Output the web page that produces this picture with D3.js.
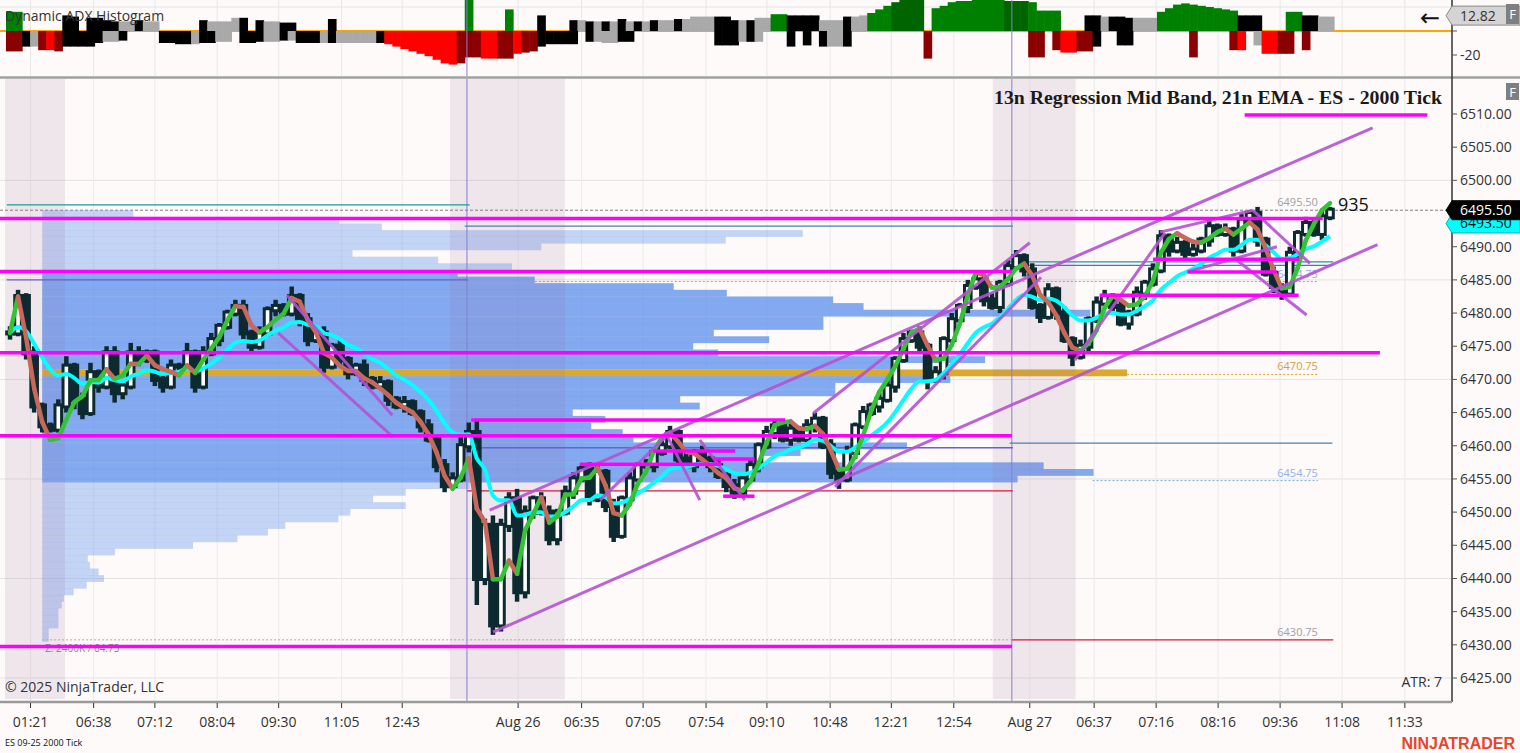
<!DOCTYPE html>
<html><head><meta charset="utf-8">
<script src="https://cdn.jsdelivr.net/npm/d3@7"></script>
<style>
body{margin:0;background:#fdfaf9;overflow:hidden}
svg{display:block;font-family:"Open Sans","Noto Sans",sans-serif}
</style></head>
<body><svg id="c" width="1520" height="753"></svg>
<script>
// ---------------- DATA ----------------
const closes=[6477,6482.5,6474,6466,6463,6462.5,6466,6472,6467,6465,
6471,6469,6474,6468,6469,6474,6473,6474,6470,6469,
6472,6472,6474,6469,6474,6476,6478,6480,6481,6477,
6475,6477,6480.5,6481,6480,6482.5,6479,6476,6477,6472,
6475,6473,6471,6472,6470,6469,6469.5,6467,6466,6466.5,
6465,6463,6461,6457,6454,6455,6460,6462,6440,6448,
6433,6448,6452,6438,6450,6452,6450,6446,6450,6453,
6455,6456.5,6452,6456,6451,6446.5,6452,6455,6457,6457,
6459,6460,6462,6458,6457,6459,6458,6457,6455.5,6454,
6453,6455,6457,6460,6462,6463,6461,6462.5,6461,6463,
6464,6460,6456,6455,6459,6463,6465,6466,6467,6469,
6473,6476,6477,6475,6470,6471,6476,6479,6481,6484,
6485,6482,6481,6484.5,6487,6488.5,6486.5,6481,6479.5,6483.5,
6480,6476,6473.5,6475,6479,6481.5,6482.5,6481,6478.5,6480,
6483,6484.5,6486.5,6491.5,6489.5,6490.5,6489,6489.5,6491,6493,
6492,6492.5,6489.5,6494,6495,6491,6486,6484,6483,6489,
6492,6493.5,6492,6494.5,6495.5];
const wickHi=[1,1,0.5,1,0.5,0.5,1,1.5,0.5,1, 1.5,0.5,1,1,0.5,1.5,1,0.5,0.5,1,
1,0.5,1.5,0.5,1,1,0.5,0.5,1,1, 0.5,1,0.5,1,0.5,1.5,0.5,1,0.5,1,
0.5,1,0.5,0.5,1,0.5,1,0.5,0.5,1, 0.5,0.5,1,0.5,1,1,1.5,1.5,2,1,
1.5,1,1,1.5,1,0.5,1,1,0.5,1, 1,0.5,1,1,0.5,1,0.5,1,0.5,1,
0.5,1,1,0.5,1,0.5,1,0.5,1,0.5, 1,0.5,1,0.5,1,1,0.5,1,0.5,1,
1,0.5,1,0.5,1,0.5,1,0.5,1,1, 0.5,1,0.5,1,0.5,1,0.5,1,0.5,1,
1,0.5,1,0.5,1,1,0.5,1,0.5,1, 0.5,1,0.5,1,0.5,1,1,0.5,1,0.5,
1,0.5,1,1,0.5,1,0.5,1,0.5,1, 0.5,1,0.5,1,0.5,1,0.5,1,0.5,1,
0.5,1,0.5,1,0.5];
const wickLo=[1,0.5,1,1,1,0.5,0.5,1,1.5,1, 0.5,1,0.5,1.5,1,0.5,1,0.5,1,1,
0.5,1,0.5,1,0.5,0.5,1,0.5,0.5,1, 1,0.5,0.5,1,0.5,0.5,1,1,0.5,1,
0.5,1,1,0.5,1,0.5,0.5,1,0.5,1, 0.5,1,0.5,1,1,0.5,0.5,1,4,1,
1.5,1,1,1.5,1,1,0.5,1,1,0.5, 1,0.5,1,0.5,1,1,0.5,1,0.5,0.5,
1,0.5,0.5,1,0.5,1,0.5,1,0.5,1, 1,0.5,0.5,1,0.5,1,0.5,1,0.5,0.5,
1,0.5,1,1.5,0.5,1,0.5,0.5,1,0.5, 1,0.5,0.5,1,1.5,0.5,1,0.5,0.5,1,
0.5,1,0.5,1,0.5,0.5,1,0.5,1,0.5, 1,0.5,1.5,0.5,1,0.5,0.5,1,0.5,1,
0.5,1,0.5,0.5,1,0.5,1,0.5,0.5,1, 0.5,0.5,1,0.5,0.5,1,0.5,1,1,0.5,
1,0.5,0.5,1,0.5];

// Dynamic ADX histogram (upper / lower series, colour codes)
const adxUp=[16,16,0,0,0,0,0,13,12,0, 11,11,9,8,8,8,9,8,8,0, 0,0,0,0,9,8,8,8,11,11, 0,9,8,8,7,7,0,0,0,0,
10,0,0,0,0,0,0,0,0,0, 0,0,0,0,0,0,0,26,0,0, 0,0,18,0,0,0,13,0,0,0, 9,9,8,8,8,8,10,8,8,8,
9,9,9,10,10,12,12,12,12,12, 9,9,9,11,11,14,14,13,13,13, 13,9,9,9,12,12,13,15,18,21, 24,26,26,26,0,19,21,24,25,25,
26,26,26,26,25,25,25,24,17,17, 17,0,0,0,13,13,12,12,12,11, 11,11,11,16,19,22,23,22,21,20, 19,18,17,13,13,13,0,0,0,16,
16,13,13,12,12];
const adxUpC=("GG.....KK.KKKKSSKSS.....KSSSSK.KSSKK....K................G....G...K...KSKSKSKSKS"+
"KSSKSSSSKKKSKSSGGKKKKSSSKSSGGGgggg.GGGGGGGGGgggGGGG...KKSKKKSSSGGGGGGGGGGKKK...GGKKSS").split("");
const adxDn=[17,17,13,13,16,16,17,13,13,13, 13,10,9,9,8,0,0,0,0,10, 10,11,11,11,10,10,9,9,0,10, 10,9,9,9,8,8,10,10,10,10,
10,10,10,10,10,10,10,11,13,15, 17,19,21,24,27,28,27,22,22,23, 23,23,23,19,18,17,13,11,11,11, 11,0,9,9,10,10,9,9,0,0,
0,0,0,0,0,0,0,0,12,12, 12,9,9,9,0,0,0,13,0,12, 0,13,13,13,13,0,0,0,0,0, 0,0,0,0,23,0,0,0,0,0,
0,0,0,0,0,0,0,22,22,0, 16,18,18,17,17,13,0,0,12,12, 0,0,0,0,0,0,0,22,0,0, 0,0,16,16,0,12,19,19,19,19,
0,16,0,0,0];
const adxDnC=("rrKSrRrKKKKKSSK....KKKKSKKSS.KKKSSKSKKKSKSSSSSKRRRRRRRRRrrrRRrrRrrKKKKK.KSSSKK.."+
"........KKKSKS...K.K.KSSK.........r............rr.rRRrrK..KK.......r....rR.SRRrr.r...").split("");

// Volume profile (Aug 25 session)
const profPrice=d3.range(6495,6430,-1);
const profVol=[8.4,27.4,31.3,70.1,63,46,28.6,36.5,43.3,38.3,45.4,58.2,63.1,72.9,75.7,96.6,72,72,61.9,67,
60,62.3,86.9,79,100,83.7,73.1,73.1,58.8,60.6,48.9,51.9,50.6,53.5,54.5,79.7,69.9,66.2,92.3,96.9,
89.9,39.4,33.5,30.5,33.5,28.4,27.3,22.4,20.8,18,13.9,6.7,4.2,4.4,5.2,5.7,4.1,2.9,2,1.8,
1.5,1.5,1.5,0.6,0.6];
const vaHigh=6486, vaLow=6455, pocPrice=6471;

// time axis
const tickLabels=["01:21","06:38","07:12","08:04","09:30","11:05","12:43","Aug 26","06:35","07:05","07:54","09:10","10:48","12:21","12:54","Aug 27","06:37","07:16","08:16","09:36","11:08","11:33"];
const tickIdx=[2.55,10.39,18.0,25.74,33.38,41.2,48.73,63.13,71.02,78.66,86.48,94.04,101.9,109.5,117.26,126.7,134.7,142.4,150.1,157.8,165.5,173.3];
const priceTicks=d3.range(6425,6511,5);
const gridPrices=[6425,6440,6455,6470,6485,6500];
const sessionBreaks=[56.77,124.47];
const shadeRanges=[[-0.62,6.83],[54.66,68.94],[122.1,132.4]];

// drawing objects (bar index, price)
const magentaLines=[[-2,163.1,6494.25],[-2,124.5,6486.25],[-2,170.2,6474.0],[-2,124.5,6461.5],[-2,124.5,6429.75],
[57.3,96.3,6463.9],[70.8,88.4,6457.2],[79.9,90.1,6459.2],[87.5,92.5,6458.0],[88.6,92.5,6452.4],
[142,160.2,6488.1],[146.3,157.4,6486.2],[135.4,160.1,6482.7],[153.4,176.1,6509.85]];
const trendLines=[[34.4,6482.7,47.5,6464.6],[33.3,6477.0,47.6,6461.3],[60.0,6431.9,169.9,6490.3],[59.6,6450.3,169.3,6507.9],
[99.8,6464.9,126.7,6490.6],[102.5,6453.8,128.1,6485.4],[132.3,6472.9,143.5,6492.1],[142.9,6492.2,154.4,6495.5],
[154.4,6495.5,161.5,6487.5],[152.4,6488.0,161.1,6479.7],[146.3,6486.2,157.4,6490.0],[73.3,6451.8,81.7,6461.6],
[81.4,6462.1,85.7,6451.8],[85.7,6460.9,91.3,6451.8]];
const levelLines=[[-0.4,57.1,6496.3,"#1e9a9a"],[-0.4,56.9,6485.0,"#6b5fd0"],[56.5,124.6,6493.1,"#4a7fb0"],
[56.8,124.6,6459.7,"#6b5fd0"],[56.8,124.6,6453.2,"#dc143c"],[124.2,164.4,6487.7,"#1e9a9a"],[124.2,164.4,6487.2,"#6b5fd0"],
[124.2,164.3,6460.4,"#4a7fb0"],[124.5,164.4,6430.75,"#dc143c"]];
const dottedLines=[[4,124.5,6430.75,"#a8a8a8"],[65.2,162.5,6484.75,"#7ea6ea"],[138.8,162.5,6470.75,"#daa520"],[134.5,162.5,6454.75,"#7ea6ea"]];
const levelLabels=[[6495.5,"6495.50","#a0a0a0"],[6484.75,"6484.75","#8fb0ea"],[6470.75,"6470.75","#d2a040"],[6454.75,"6454.75","#8fb0ea"],[6430.75,"6430.75","#a0a0a0"]];
const lastPrice=6495.5, emaLast=6493.5, adxLast=12.82, barCountdown="935";

// ---------------- CHART ----------------
const svg=d3.select("#c");
const AX=1452;
const xs=d3.scaleLinear().domain([0,164]).range([10,1330]);
const step=xs(1)-xs(0);
const ys=d3.scaleLinear().domain([6425,6510]).range([678,114]);
const ya=d3.scaleLinear().domain([-20,0]).range([55,31]);
const vs=d3.scaleLinear().domain([0,100]).range([0,1085]);

const defs=svg.append("defs");
defs.append("clipPath").attr("id","cm").append("rect").attr("x",0).attr("y",79).attr("width",AX).attr("height",622);
defs.append("clipPath").attr("id","ct").append("rect").attr("x",0).attr("y",0).attr("width",AX).attr("height",76);

// ---- top panel
const gt=svg.append("g").attr("clip-path","url(#ct)");
gt.selectAll(".vg").data(tickIdx).join("line").attr("x1",d=>xs(d)).attr("x2",d=>xs(d)).attr("y1",0).attr("y2",76).attr("stroke","#e8e8e8");
gt.append("line").attr("x1",0).attr("x2",AX).attr("y1",ya(20)).attr("y2",ya(20)).attr("stroke","#e4e4e4");
gt.append("line").attr("x1",0).attr("x2",AX).attr("y1",ya(0)).attr("y2",ya(0)).attr("stroke","#ffa500").attr("stroke-width",2);
const cmap={G:"#008000",g:"#006400",R:"#ff0000",r:"#8b0000",K:"#000000",S:"#a9a9a9"};
gt.selectAll(".au").data(adxUp.map((v,i)=>({v,i,c:adxUpC[i]})).filter(d=>d.v>0)).join("rect")
 .attr("x",d=>xs(d.i)-step/2).attr("width",step+0.6).attr("y",d=>ya(d.v)).attr("height",d=>ya(0)-ya(d.v)).attr("fill",d=>cmap[d.c]);
gt.selectAll(".ad").data(adxDn.map((v,i)=>({v,i,c:adxDnC[i]})).filter(d=>d.v>0)).join("rect")
 .attr("x",d=>xs(d.i)-step/2).attr("width",step+0.6).attr("y",ya(0)).attr("height",d=>ya(-d.v)-ya(0)).attr("fill",d=>cmap[d.c]);
gt.append("line").attr("x1",xs(adxUp.length-1)+step/2).attr("x2",AX).attr("y1",ya(0)).attr("y2",ya(0)).attr("stroke","#ffa500").attr("stroke-width",2);
gt.selectAll(".sb").data(sessionBreaks).join("line").attr("x1",d=>xs(d)).attr("x2",d=>xs(d)).attr("y1",0).attr("y2",76).attr("stroke","#8080d0");
svg.append("text").attr("x",5).attr("y",21).attr("font-size",14).attr("fill","#333").text("Dynamic ADX Histogram");
svg.append("line").attr("x1",0).attr("x2",1520).attr("y1",77.5).attr("y2",77.5).attr("stroke","#a0a0a0").attr("stroke-width",2.5);

// ---- main panel
const g=svg.append("g").attr("clip-path","url(#cm)");
g.selectAll(".hg").data(gridPrices).join("line").attr("x1",0).attr("x2",AX).attr("y1",d=>ys(d)).attr("y2",d=>ys(d)).attr("stroke","#e2e2e2");
g.selectAll(".vg").data(tickIdx).join("line").attr("x1",d=>xs(d)).attr("x2",d=>xs(d)).attr("y1",79).attr("y2",701).attr("stroke","#ebebeb");
g.append("line").attr("x1",0).attr("x2",AX).attr("y1",ys(lastPrice)).attr("y2",ys(lastPrice)).attr("stroke","#808080").attr("stroke-dasharray","3,2");
// profile
const px0=xs(4);
g.selectAll(".pr").data(profPrice.map((p,k)=>({p,v:profVol[k]}))).join("rect")
 .attr("x",px0).attr("y",d=>ys(d.p+0.5)).attr("height",d=>ys(d.p-0.5)-ys(d.p+0.5)+0.2).attr("width",d=>vs(d.v))
 .attr("fill",d=>d.p===pocPrice?"#daa520":"#6495ed").attr("fill-opacity",d=>d.p===pocPrice?0.95:(d.p>=vaLow&&d.p<=vaHigh?0.8:0.38));
g.append("text").attr("x",px0+3).attr("y",ys(6430.75)+12).attr("font-size",10).attr("fill","#7a8a70").text("Σ: 2400K / 64.75");
// shading
g.selectAll(".sh").data(shadeRanges).join("rect").attr("x",d=>xs(d[0])).attr("width",d=>xs(d[1])-xs(d[0])).attr("y",79).attr("height",620)
 .attr("fill","#96649a").attr("fill-opacity",0.13);
g.selectAll(".sb").data(sessionBreaks).join("line").attr("x1",d=>xs(d)).attr("x2",d=>xs(d)).attr("y1",79).attr("y2",701).attr("stroke","#8080d0");
// level lines
g.selectAll(".lv").data(levelLines).join("line").attr("x1",d=>xs(d[0])).attr("x2",d=>xs(d[1])).attr("y1",d=>ys(d[2])).attr("y2",d=>ys(d[2])).attr("stroke",d=>d[3]).attr("stroke-width",1.3);
g.selectAll(".dl").data(dottedLines).join("line").attr("x1",d=>xs(d[0])).attr("x2",d=>xs(d[1])).attr("y1",d=>ys(d[2])).attr("y2",d=>ys(d[2])).attr("stroke",d=>d[3]).attr("stroke-dasharray","2,2");
g.selectAll(".ll").data(levelLabels).join("text").attr("x",xs(162.5)).attr("y",d=>ys(d[0])-4).attr("text-anchor","end").attr("font-size",11).attr("fill",d=>d[2]).text(d=>d[1]);

// candles
const bars=closes.map((c,i)=>{const o=i?closes[i-1]:c;return {i,o,c,h:Math.max(o,c)+wickHi[i],l:Math.min(o,c)-wickLo[i]};});
const dark="#0e2a31";
g.selectAll(".wk").data(bars).join("line").attr("x1",d=>xs(d.i)).attr("x2",d=>xs(d.i)).attr("y1",d=>ys(d.h)).attr("y2",d=>ys(d.l)).attr("stroke",dark).attr("stroke-width",4.5);
g.selectAll(".bd").data(bars).join("rect").attr("x",d=>xs(d.i)-3.3).attr("width",6.6)
 .attr("y",d=>ys(Math.max(d.o,d.c))-1).attr("height",d=>Math.max(2,Math.abs(ys(d.o)-ys(d.c))+2))
 .attr("fill",d=>d.c>=d.o?"#ffffff":dark).attr("stroke",dark).attr("stroke-width",3);

// indicators
function linReg(arr,n){return arr.map((_,i)=>{const s=Math.max(0,i-n+1);const seg=arr.slice(s,i+1);const m=seg.length;if(m<2)return seg[0];
 let sx=0,sy=0,sxy=0,sxx=0;seg.forEach((v,k)=>{sx+=k;sy+=v;sxy+=k*v;sxx+=k*k});const b=(m*sxy-sx*sy)/(m*sxx-sx*sx);const a=(sy-b*sx)/m;return a+b*(m-1);});}
function ema(arr,n){const k=2/(n+1);const out=[];arr.forEach((v,i)=>out.push(i?out[i-1]+k*(v-out[i-1]):v));return out;}
const reg=linReg(closes,7), em=ema(closes,11);
g.append("path").datum(em).attr("d",d3.line().x((d,i)=>xs(i)).y(d=>ys(d)).curve(d3.curveMonotoneX)).attr("fill","none").attr("stroke","#00ffff").attr("stroke-width",4);
const segs=reg.slice(1).map((v,k)=>({i:k+1,a:reg[k],b:v}));
g.selectAll(".rg").data(segs).join("line").attr("x1",d=>xs(d.i-1)).attr("x2",d=>xs(d.i)).attr("y1",d=>ys(d.a)).attr("y2",d=>ys(d.b))
 .attr("stroke",d=>d.b>=d.a?"#36c236":"#c8685a").attr("stroke-width",4.5).attr("stroke-linecap","round");

// drawings
g.selectAll(".tl").data(trendLines).join("line").attr("x1",d=>xs(d[0])).attr("y1",d=>ys(d[1])).attr("x2",d=>xs(d[2])).attr("y2",d=>ys(d[3]))
 .attr("stroke","#b452d2").attr("stroke-width",3).attr("stroke-opacity",0.9);
g.selectAll(".mg").data(magentaLines).join("line").attr("x1",d=>xs(d[0])).attr("x2",d=>xs(d[1])).attr("y1",d=>ys(d[2])).attr("y2",d=>ys(d[2]))
 .attr("stroke","#ff00ff").attr("stroke-width",3.5);
g.append("text").attr("x",xs(164)+8).attr("y",ys(lastPrice)+1).attr("font-size",18).attr("fill","#111").text(barCountdown);

// titles / texts
svg.append("text").attr("x",1442).attr("y",104).attr("text-anchor","end").style("font-family","'Liberation Serif','DejaVu Serif',serif").attr("font-weight","bold").attr("font-size",19.8).attr("fill","#1a1a1a")
 .text("13n Regression Mid Band, 21n EMA - ES - 2000 Tick");
svg.append("text").attr("x",5).attr("y",692).attr("font-size",14).attr("fill","#333").text("© 2025 NinjaTrader, LLC");
svg.append("text").attr("x",1442).attr("y",687).attr("text-anchor","end").attr("font-size",14).attr("fill","#333").text("ATR: 7");

// ---- axes
svg.append("line").attr("x1",AX).attr("x2",AX).attr("y1",0).attr("y2",702).attr("stroke","#333").attr("stroke-width",1.5);
svg.append("line").attr("x1",0).attr("x2",AX).attr("y1",702).attr("y2",702).attr("stroke","#9a9a9a").attr("stroke-width",2.5);
const ra=svg.append("g");
ra.selectAll("line").data(priceTicks).join("line").attr("x1",AX).attr("x2",AX+5).attr("y1",d=>ys(d)).attr("y2",d=>ys(d)).attr("stroke","#555");
ra.selectAll("text").data(priceTicks).join("text").attr("x",1460).attr("y",d=>ys(d)+5).attr("font-size",14).attr("fill","#333").text(d=>d.toFixed(2));
const ba=svg.append("g");
ba.selectAll("line").data(tickIdx).join("line").attr("x1",d=>xs(d)).attr("x2",d=>xs(d)).attr("y1",703).attr("y2",708).attr("stroke","#333");
ba.selectAll("text").data(tickLabels).join("text").attr("x",(d,k)=>xs(tickIdx[k])).attr("y",727).attr("text-anchor","middle").attr("font-size",14).attr("fill","#333").text(d=>d);
svg.append("text").attr("x",5).attr("y",746).attr("font-size",9).attr("fill","#111").text("ES 09-25 2000 Tick");
svg.append("text").attr("x",1515).attr("y",749).attr("text-anchor","end").style("font-family","'Liberation Sans',sans-serif").attr("font-weight","bold").attr("font-size",16).attr("fill","#e8442a").text("NINJATRADER");

// top panel axis
svg.selectAll(".ta").data([0,-20]).join("line").attr("x1",AX).attr("x2",AX+5).attr("y1",d=>ya(d)).attr("y2",d=>ya(d)).attr("stroke","#555");
svg.append("text").attr("x",1460).attr("y",ya(-20)+5).attr("font-size",14).attr("fill","#333").text("-20");
function tag(yc,fill,stroke,txt,tc){const h=19;
 svg.append("path").attr("d",`M${AX-6},${yc} L${AX},${yc-h/2} L1520,${yc-h/2} L1520,${yc+h/2} L${AX},${yc+h/2} Z`).attr("fill",fill).attr("stroke",stroke);
 svg.append("text").attr("x",1460).attr("y",yc+5).attr("font-size",14).attr("fill",tc).text(txt);}
tag(ya(adxLast),"#d4d4d4","#8a8a8a",adxLast.toFixed(2),"#333");
tag(ys(emaLast),"#00ffff","#00b0b0",emaLast.toFixed(2),"#111");
tag(ys(lastPrice),"#000000","#000",lastPrice.toFixed(2),"#ffffff");
svg.append("text").attr("x",1430).attr("y",26).attr("text-anchor","middle").style("font-family","'DejaVu Sans',sans-serif").attr("font-size",24).attr("fill","#111").text("←");
[[4,20],[83,17]].forEach(([y,h])=>{svg.append("rect").attr("x",1506).attr("y",y).attr("width",13).attr("height",h).attr("fill","#7f7f7f");
 svg.append("text").attr("x",1512.5).attr("y",y+h/2+5).attr("text-anchor","middle").attr("font-size",13).attr("fill","#fff").text("F");});
</script></body></html>
